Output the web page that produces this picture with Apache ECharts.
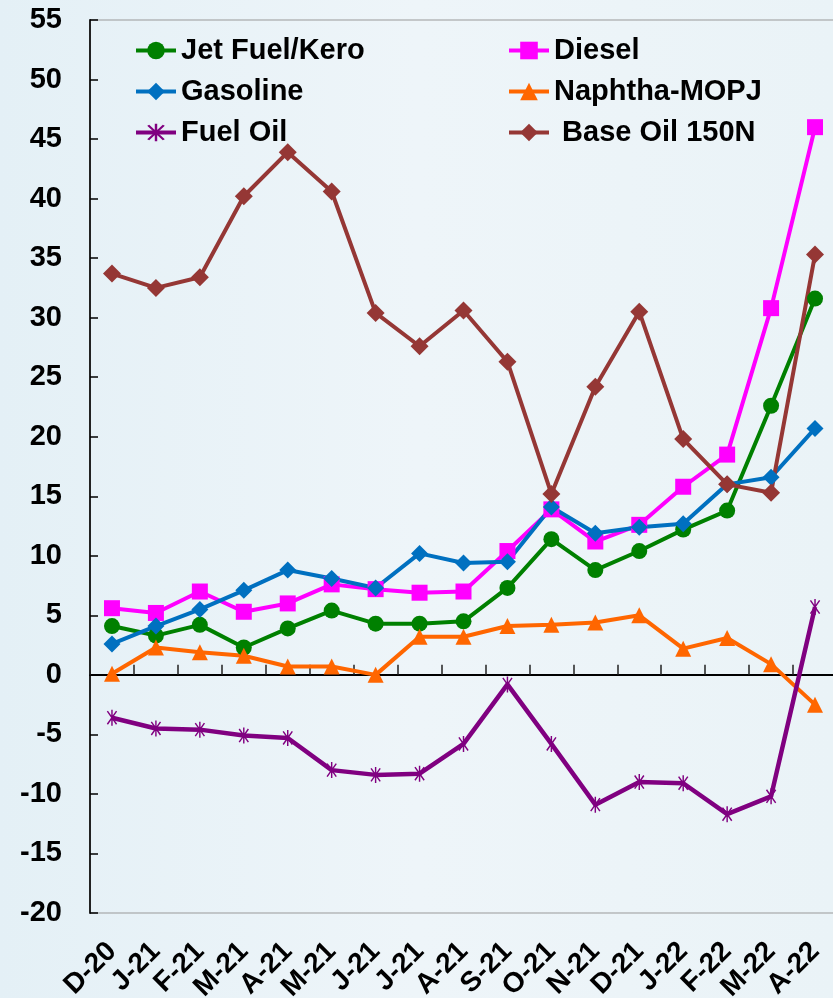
<!DOCTYPE html>
<html>
<head>
<meta charset="utf-8">
<script src="https://cdn.jsdelivr.net/npm/echarts@6/dist/echarts.min.js"></script>
<style>
  html, body { margin: 0; padding: 0; }
  #main { width: 833px; height: 998px; }
</style>
</head>
<body>
<div id="main"></div>
<script>
// categories + series values
const categories = ['D-20', 'J-21', 'F-21', 'M-21', 'A-21', 'M-21', 'J-21', 'J-21', 'A-21',
  'S-21', 'O-21', 'N-21', 'D-21', 'J-22', 'F-22', 'M-22', 'A-22'];
const jetFuel = [4.1, 3.3, 4.2, 2.3, 3.9, 5.4, 4.3, 4.3, 4.5, 7.3, 11.4, 8.8, 10.4, 12.2, 13.8, 22.6, 31.6];
const diesel = [5.6, 5.2, 7.0, 5.3, 6.0, 7.6, 7.2, 6.9, 7.0, 10.4, 13.9, 11.2, 12.6, 15.8, 18.5, 30.8, 46.0];
const gasoline = [2.6, 4.1, 5.5, 7.1, 8.8, 8.1, 7.3, 10.2, 9.4, 9.5, 14.1, 11.9, 12.4, 12.7, 16.0, 16.6, 20.7];
const naphtha = [0.1, 2.3, 1.9, 1.6, 0.7, 0.7, 0.0, 3.2, 3.2, 4.1, 4.2, 4.4, 5.0, 2.2, 3.1, 0.9, -2.5];
const fuelOil = [-3.6, -4.5, -4.6, -5.1, -5.3, -8.0, -8.4, -8.3, -5.8, -0.8, -5.8, -10.9, -9.0, -9.1, -11.7, -10.2, 5.7];
const baseOil = [33.7, 32.5, 33.4, 40.2, 43.9, 40.6, 30.4, 27.6, 30.6, 26.3, 15.2, 24.2, 30.5, 19.8, 16.0, 15.3, 35.3];

const FONT = '"Liberation Sans", Arial, sans-serif';
// asterisk marker (3 bars)
const ASTER = 'path://M-0.09,-1L0.09,-1L0.09,1L-0.09,1Z' +
  'M0.648,0.767L0.5,0.871L-0.648,-0.767L-0.5,-0.871Z' +
  'M-0.5,0.871L-0.648,0.767L0.5,-0.871L0.648,-0.767Z';

function line(name, data, color, symbol, size, width) {
  return {
    name: name,
    type: 'line',
    data: data,
    symbol: symbol,
    symbolSize: size,
    symbolKeepAspect: true,
    lineStyle: { color: color, width: width || 4 },
    itemStyle: { color: color },
    emphasis: { disabled: true },
    animation: false
  };
}

const chart = echarts.init(document.getElementById('main'));
const legendText = { fontFamily: FONT, fontWeight: 'bold', fontSize: 29, color: '#000' };
const legendBase = {
  orient: 'vertical', top: 36, padding: 0,
  itemWidth: 40, itemHeight: 22, itemGap: 12,
  lineStyle: { width: 4 },
  textStyle: legendText
};

chart.setOption({
  backgroundColor: {
    type: 'linear', x: 0, y: 0, x2: 1, y2: 0,
    colorStops: [
      { offset: 0, color: '#e4f0f6' },
      { offset: 0.5, color: '#eef5f9' },
      { offset: 1, color: '#eaf3f7' }
    ]
  },
  grid: {
    left: 90, top: 20, width: 747, height: 893, outerBoundsMode: 'none', containLabel: false,
    show: true, borderColor: '#999', borderWidth: 1, backgroundColor: 'transparent'
  },
  legend: [
    Object.assign({ data: ['Jet Fuel/Kero', 'Gasoline', 'Fuel Oil'], left: 134 }, legendBase),
    Object.assign({ data: ['Diesel', 'Naphtha-MOPJ', ' Base Oil 150N'], left: 507 }, legendBase)
  ],
  xAxis: [
    {
      type: 'category', data: categories, position: 'bottom',
      axisLine: { show: false, onZero: false }, axisTick: { show: false },
      axisLabel: { rotate: 45, margin: 34, interval: 0, fontFamily: FONT, fontWeight: 'bold', fontSize: 28, color: '#000' }
    },
    {
      type: 'category', data: categories, position: 'top',
      axisLine: { show: true, onZero: true, lineStyle: { color: '#000', width: 2 } },
      axisTick: { show: true, inside: false, length: 10, lineStyle: { color: '#222', width: 1.5 } },
      axisLabel: { show: false }
    }
  ],
  yAxis: {
    type: 'value', min: -20, max: 55, interval: 5,
    axisLine: { show: true, lineStyle: { color: '#222', width: 2 } },
    axisTick: { show: true, inside: true, length: 8, lineStyle: { color: '#000', width: 1.5 } },
    splitLine: { show: false },
    axisLabel: { margin: 28, fontFamily: FONT, fontWeight: 'bold', fontSize: 29, color: '#000' }
  },
  series: [
    line('Jet Fuel/Kero', jetFuel, '#008000', 'circle', 16),
    line('Diesel', diesel, '#ff00ff', 'rect', 16),
    line('Gasoline', gasoline, '#0070c0', 'diamond', 17),
    line('Naphtha-MOPJ', naphtha, '#ff6600', 'triangle', 16),
    line('Fuel Oil', fuelOil, '#800080', ASTER, 16, 4.5),
    line(' Base Oil 150N', baseOil, '#953735', 'diamond', 18)
  ]
});
</script>
</body>
</html>
